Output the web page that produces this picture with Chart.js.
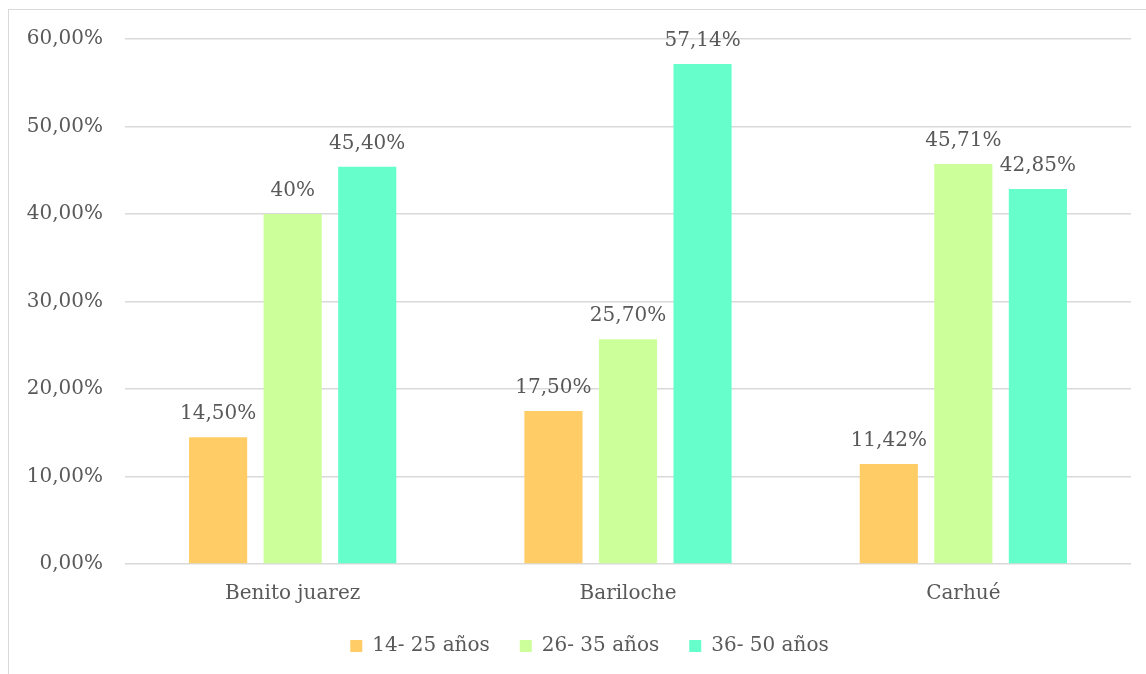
<!DOCTYPE html>
<html lang="es">
<head>
  <meta charset="UTF-8" />
  <title>Edades por localidad</title>
  <script src="https://cdn.jsdelivr.net/npm/chart.js"></script>
  <style>
    html, body { margin: 0; padding: 0; background: #fff; }
    #wrap { position: relative; width: 1146px; height: 674px; overflow: hidden; }
    #marco {
      position: absolute; left: 8px; top: 9px; width: 1200px; height: 700px;
      border-left: 1.5px solid #d9d9d9; border-top: 1.5px solid #d9d9d9;
    }
    canvas { position: absolute; left: 0; top: 0; }
  </style>
</head>
<body>
  <div id="wrap">
    <div id="marco"></div>
    <canvas id="grafico" width="1146" height="674"></canvas>
  </div>

  <script>
    // Localidades y porcentajes por grupo de edad
    const localidades = ['Benito juarez', 'Bariloche', 'Carhué'];
    const grupos = ['14- 25 años', '26- 35 años', '36- 50 años'];

    const edad14a25 = [14.50, 17.50, 11.42];
    const edad26a35 = [40, 25.70, 45.71];
    const edad36a50 = [45.40, 57.14, 42.85];

    const etiq14a25 = ['14,50%', '17,50%', '11,42%'];
    const etiq26a35 = ['40%', '25,70%', '45,71%'];
    const etiq36a50 = ['45,40%', '57,14%', '42,85%'];

    const colores = ['#FFCC66', '#CCFF99', '#66FFCC'];
    const textoGris = '#595959';
    const fuente = "'DejaVu Serif', serif";

    // etiquetas encima de cada barra
    const etiquetasBarras = {
      id: 'etiquetasBarras',
      afterDatasetsDraw(chart) {
        const ctx = chart.ctx;
        ctx.save();
        ctx.font = '20px ' + fuente;
        ctx.fillStyle = textoGris;
        ctx.textAlign = 'center';
        ctx.textBaseline = 'middle';
        chart.data.datasets.forEach((ds, i) => {
          chart.getDatasetMeta(i).data.forEach((bar, j) => {
            ctx.fillText(ds.etiquetas[j], bar.x, bar.y - 23);
          });
        });
        ctx.restore();
      }
    };

    // corre la leyenda un poco a la derecha
    const moverLeyenda = {
      id: 'moverLeyenda',
      afterLayout(chart) {
        chart.legend.left += 40;
      }
    };

    const series = [edad14a25, edad26a35, edad36a50];
    const etiquetas = [etiq14a25, etiq26a35, etiq36a50];

    new Chart(document.getElementById('grafico'), {
      type: 'bar',
      data: {
        labels: localidades,
        datasets: grupos.map((g, i) => ({
          label: g,
          data: series[i],
          etiquetas: etiquetas[i],
          backgroundColor: colores[i],
          categoryPercentage: 0.667,
          barPercentage: 0.78
        }))
      },
      plugins: [etiquetasBarras, moverLeyenda],
      options: {
        responsive: false,
        animation: false,
        layout: { padding: { left: 8, right: 15, top: 39, bottom: 18 } },
        plugins: {
          tooltip: { enabled: false },
          legend: {
            position: 'bottom',
            maxHeight: 50,
            labels: {
              boxWidth: 12,
              boxHeight: 12,
              padding: 30,
              color: textoGris,
              font: { family: fuente, size: 20 }
            }
          }
        },
        scales: {
          x: {
            grid: { display: false, drawTicks: false },
            border: { display: false },
            afterFit(s) { s.height = 42; },
            ticks: {
              color: textoGris,
              padding: 18,
              font: { family: fuente, size: 20 }
            }
          },
          y: {
            min: 0,
            max: 60,
            grid: { color: '#d9d9d9', lineWidth: 1.5, drawTicks: false },
            border: { display: false },
            afterFit(s) { s.width = 117; },
            ticks: {
              stepSize: 10,
              padding: 22,
              color: textoGris,
              font: { family: fuente, size: 20 },
              callback: v => v.toFixed(2).replace('.', ',') + '%'
            }
          }
        }
      }
    });
  </script>
</body>
</html>
